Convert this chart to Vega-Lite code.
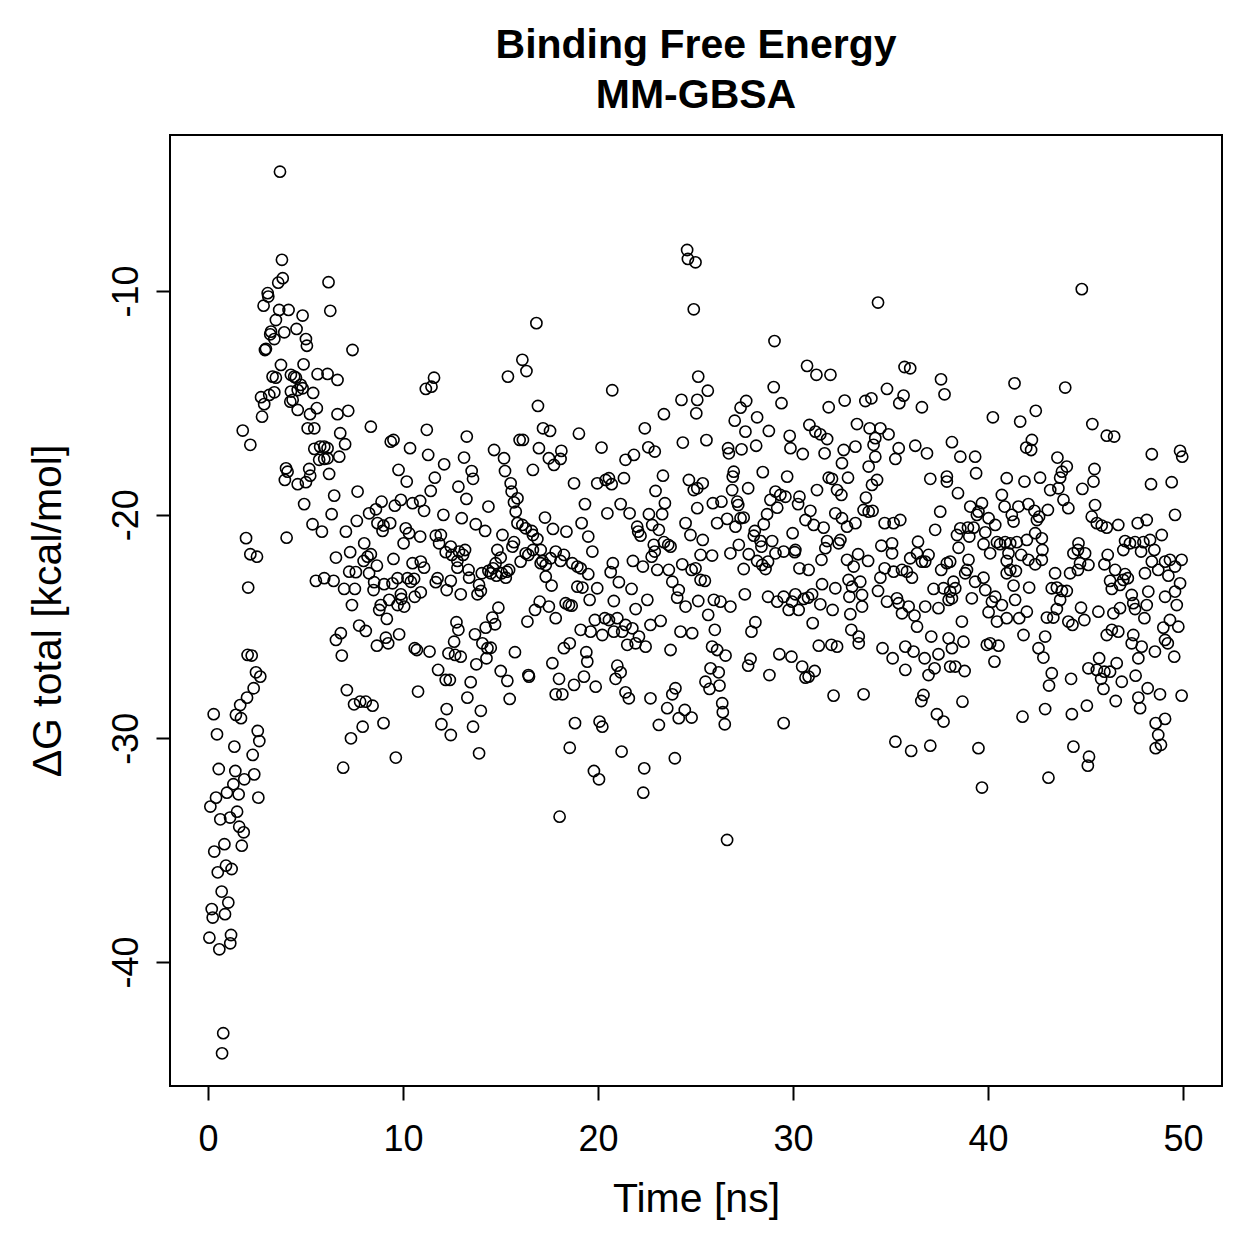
{
  "$schema": "https://vega.github.io/schema/vega-lite/v6.json",
  "width": 1052,
  "height": 951,
  "autosize": "none",
  "padding": {"left": 170, "top": 135, "right": 37, "bottom": 173},
  "background": "white",
  "title": {
    "text": ["Binding Free Energy", "MM-GBSA"],
    "font": "Liberation Sans",
    "fontSize": 41,
    "fontWeight": "bold",
    "color": "black",
    "anchor": "middle",
    "lineHeight": 50,
    "offset": 18
  },
  "data": {
    "values": [
      {"t":2.29,"dg":-30.74},{"t":0.55,"dg":-31.37},{"t":1.40,"dg":-31.46},{"t":2.37,"dg":-31.61},{"t":1.86,"dg":-31.83},{"t":1.30,"dg":-32.05},{"t":0.97,"dg":-32.43},{"t":1.57,"dg":-32.50},{"t":0.41,"dg":-32.65},{"t":2.58,"dg":-32.65},{"t":0.12,"dg":-33.05},{"t":1.49,"dg":-33.28},{"t":0.63,"dg":-33.62},{"t":1.13,"dg":-33.54},{"t":1.60,"dg":-33.95},{"t":1.83,"dg":-34.20},{"t":1.73,"dg":-34.80},{"t":0.84,"dg":-34.73},{"t":0.32,"dg":-35.06},{"t":0.92,"dg":-35.69},{"t":1.21,"dg":-35.84},{"t":0.50,"dg":-35.99},{"t":0.70,"dg":-36.85},{"t":1.04,"dg":-37.34},{"t":0.19,"dg":-37.63},{"t":0.87,"dg":-37.86},{"t":0.24,"dg":-38.01},{"t":1.18,"dg":-38.79},{"t":0.07,"dg":-38.91},{"t":1.14,"dg":-39.16},{"t":0.58,"dg":-39.43},{"t":0.78,"dg":-43.18},{"t":0.72,"dg":-44.08},{"t":6.93,"dg":-31.31},{"t":9.63,"dg":-30.86},
      {"t":4.00,"dg":-17.93},{"t":4.08,"dg":-18.08},{"t":3.94,"dg":-18.45},{"t":4.60,"dg":-18.64},{"t":5.02,"dg":-18.55},{"t":5.24,"dg":-18.26},{"t":5.19,"dg":-17.96},{"t":5.70,"dg":-17.55},{"t":5.96,"dg":-17.51},{"t":6.13,"dg":-17.48},{"t":6.73,"dg":-17.41},{"t":6.21,"dg":-18.18},{"t":4.93,"dg":-19.53},{"t":6.47,"dg":-19.15},{"t":6.34,"dg":-19.98},{"t":7.67,"dg":-18.97},{"t":5.36,"dg":-20.43},{"t":5.84,"dg":-20.76},{"t":7.07,"dg":-20.76},{"t":7.63,"dg":-20.28},{"t":8.26,"dg":-19.94},{"t":8.61,"dg":-19.76},{"t":8.90,"dg":-19.42},{"t":8.69,"dg":-20.38},{"t":9.00,"dg":-20.49},{"t":8.95,"dg":-20.73},{"t":9.34,"dg":-20.38},{"t":9.58,"dg":-19.60},{"t":9.89,"dg":-19.34},{"t":10.49,"dg":-19.49},{"t":10.88,"dg":-19.39},{"t":11.08,"dg":-19.83},{"t":9.77,"dg":-18.00},{"t":10.19,"dg":-18.52},{"t":11.42,"dg":-18.94},{"t":11.63,"dg":-18.35},{"t":12.11,"dg":-17.75},{"t":11.29,"dg":-17.33},{"t":12.07,"dg":-20.01},{"t":10.14,"dg":-20.61},{"t":10.31,"dg":-20.83},{"t":10.03,"dg":-21.28},{"t":10.88,"dg":-20.98},{"t":11.68,"dg":-20.94},{"t":11.94,"dg":-20.91},{"t":11.85,"dg":-21.28},{"t":12.19,"dg":-21.68},{"t":8.01,"dg":-21.28},{"t":7.29,"dg":-21.68},{"t":6.56,"dg":-21.92},{"t":8.35,"dg":-21.77},{"t":8.18,"dg":-21.88},{"t":7.98,"dg":-22.07},{"t":8.66,"dg":-22.28},{"t":9.51,"dg":-21.98},{"t":10.49,"dg":-22.17},{"t":10.91,"dg":-22.10},{"t":11.08,"dg":-22.37},{"t":7.24,"dg":-22.55},{"t":7.58,"dg":-22.57},{"t":8.26,"dg":-22.62},{"t":5.53,"dg":-22.96},{"t":5.96,"dg":-22.84},{"t":6.44,"dg":-22.96},{"t":6.98,"dg":-23.32},{"t":7.53,"dg":-23.32},{"t":8.52,"dg":-23.02},{"t":8.49,"dg":-23.37},{"t":9.03,"dg":-23.11},{"t":9.46,"dg":-23.07},{"t":9.72,"dg":-22.84},{"t":10.23,"dg":-22.84},{"t":10.40,"dg":-23.00},{"t":10.57,"dg":-22.87},{"t":11.68,"dg":-23.02},{"t":11.77,"dg":-22.84},{"t":12.24,"dg":-23.37},{"t":10.60,"dg":-23.67},{"t":10.91,"dg":-23.47},{"t":9.89,"dg":-23.56},{"t":9.92,"dg":-23.77},{"t":10.06,"dg":-24.11},{"t":9.72,"dg":-24.04},{"t":9.29,"dg":-23.81},{"t":8.86,"dg":-24.04},{"t":8.78,"dg":-24.26},{"t":9.17,"dg":-24.66},{"t":7.38,"dg":-24.04},{"t":7.75,"dg":-24.96},{"t":8.09,"dg":-25.20},{"t":6.81,"dg":-25.30},{"t":6.56,"dg":-25.60},{"t":6.86,"dg":-26.30},{"t":9.12,"dg":-25.50},{"t":9.24,"dg":-25.75},{"t":8.66,"dg":-25.86},{"t":9.80,"dg":-25.35},{"t":10.60,"dg":-25.97},{"t":10.71,"dg":-26.05},{"t":11.36,"dg":-26.12},{"t":11.80,"dg":-26.94},{"t":12.19,"dg":-27.39},{"t":10.77,"dg":-27.91},{"t":7.12,"dg":-27.84},{"t":7.49,"dg":-28.48},{"t":7.80,"dg":-28.36},{"t":8.09,"dg":-28.36},{"t":8.44,"dg":-28.54},{"t":7.93,"dg":-29.48},{"t":9.00,"dg":-29.32},{"t":7.33,"dg":-30.00},{"t":11.97,"dg":-29.37},{"t":12.24,"dg":-28.69},{"t":1.95,"dg":-21.05},{"t":2.17,"dg":-21.77},{"t":2.51,"dg":-21.88},{"t":4.03,"dg":-21.03},{"t":2.06,"dg":-23.26},{"t":2.03,"dg":-26.27},{"t":2.24,"dg":-26.30},{"t":2.46,"dg":-27.05},{"t":2.68,"dg":-27.24},{"t":2.34,"dg":-27.76},{"t":2.00,"dg":-28.18},{"t":1.65,"dg":-28.51},{"t":1.43,"dg":-28.95},{"t":1.69,"dg":-29.10},{"t":0.29,"dg":-28.92},{"t":0.46,"dg":-29.82},{"t":2.55,"dg":-29.67},{"t":2.63,"dg":-30.12},{"t":1.35,"dg":-30.37},
      {"t":3.69,"dg":-4.67},{"t":3.79,"dg":-8.61},{"t":3.83,"dg":-9.43},{"t":3.60,"dg":-9.63},{"t":6.18,"dg":-9.61},{"t":3.06,"dg":-10.10},{"t":3.09,"dg":-10.25},{"t":2.85,"dg":-10.66},{"t":3.65,"dg":-10.85},{"t":4.13,"dg":-10.85},{"t":6.27,"dg":-10.89},{"t":4.85,"dg":-11.10},{"t":3.48,"dg":-11.30},{"t":3.23,"dg":-11.82},{"t":3.19,"dg":-11.94},{"t":3.40,"dg":-12.15},{"t":3.91,"dg":-11.85},{"t":4.54,"dg":-11.70},{"t":5.02,"dg":-12.15},{"t":5.07,"dg":-12.45},{"t":2.97,"dg":-12.59},{"t":2.92,"dg":-12.64},{"t":7.41,"dg":-12.64},{"t":3.74,"dg":-13.31},{"t":4.90,"dg":-13.28},{"t":3.31,"dg":-13.83},{"t":3.48,"dg":-13.88},{"t":4.25,"dg":-13.75},{"t":4.42,"dg":-13.83},{"t":4.51,"dg":-13.88},{"t":5.62,"dg":-13.72},{"t":6.13,"dg":-13.71},{"t":6.64,"dg":-13.98},{"t":4.76,"dg":-14.20},{"t":4.85,"dg":-14.35},{"t":4.60,"dg":-14.43},{"t":4.25,"dg":-14.50},{"t":5.39,"dg":-14.56},{"t":2.72,"dg":-14.75},{"t":3.14,"dg":-14.65},{"t":3.40,"dg":-14.53},{"t":2.88,"dg":-15.06},{"t":2.77,"dg":-15.62},{"t":4.22,"dg":-14.95},{"t":4.34,"dg":-14.87},{"t":4.60,"dg":-15.32},{"t":5.58,"dg":-15.24},{"t":5.23,"dg":-15.51},{"t":6.64,"dg":-15.51},{"t":7.19,"dg":-15.36},{"t":1.78,"dg":-16.24},{"t":2.17,"dg":-16.88},{"t":5.11,"dg":-16.14},{"t":5.45,"dg":-16.14},{"t":6.78,"dg":-16.36},{"t":7.03,"dg":-16.85},{"t":5.45,"dg":-17.06},{"t":5.75,"dg":-16.96},{"t":5.96,"dg":-16.96},{"t":6.13,"dg":-17.03},{"t":8.35,"dg":-16.07},{"t":9.37,"dg":-16.74},{"t":9.51,"dg":-16.66},{"t":10.36,"dg":-17.03},{"t":11.22,"dg":-16.21},{"t":11.59,"dg":-13.88},{"t":11.46,"dg":-14.28},{"t":11.17,"dg":-14.38},
      {"t":24.57,"dg":-8.17},{"t":24.61,"dg":-8.57},{"t":25.00,"dg":-8.72},{"t":24.91,"dg":-10.82},{"t":16.84,"dg":-11.44},{"t":16.12,"dg":-13.08},{"t":16.33,"dg":-13.58},{"t":15.38,"dg":-13.83},{"t":20.73,"dg":-14.44},{"t":16.92,"dg":-15.14},{"t":25.14,"dg":-13.83},{"t":24.28,"dg":-14.87},{"t":25.09,"dg":-14.87},{"t":25.04,"dg":-15.47},{"t":23.38,"dg":-15.51},{"t":22.40,"dg":-16.14},{"t":17.18,"dg":-16.14},{"t":17.54,"dg":-16.26},{"t":19.02,"dg":-16.38},{"t":13.27,"dg":-16.51},{"t":15.98,"dg":-16.66},{"t":16.15,"dg":-16.66},{"t":24.35,"dg":-16.78},{"t":14.67,"dg":-17.11},{"t":15.18,"dg":-17.48},{"t":16.97,"dg":-17.03},{"t":18.12,"dg":-17.15},{"t":20.18,"dg":-17.00},{"t":22.58,"dg":-16.99},{"t":22.91,"dg":-17.18},{"t":21.84,"dg":-17.33},{"t":21.41,"dg":-17.55},{"t":13.13,"dg":-17.45},{"t":17.48,"dg":-17.48},{"t":18.08,"dg":-17.51},
      {"t":34.36,"dg":-10.52},{"t":29.05,"dg":-12.24},{"t":30.72,"dg":-13.35},{"t":31.20,"dg":-13.75},{"t":31.92,"dg":-13.75},{"t":35.72,"dg":-13.40},{"t":36.01,"dg":-13.46},{"t":37.59,"dg":-13.95},{"t":37.77,"dg":-14.62},{"t":29.01,"dg":-14.30},{"t":29.41,"dg":-15.02},{"t":25.63,"dg":-14.46},{"t":27.60,"dg":-14.92},{"t":27.31,"dg":-15.22},{"t":27.01,"dg":-15.80},{"t":28.16,"dg":-15.65},{"t":27.56,"dg":-16.29},{"t":28.76,"dg":-16.26},{"t":25.56,"dg":-16.67},{"t":26.67,"dg":-17.03},{"t":26.71,"dg":-17.26},{"t":27.36,"dg":-17.08},{"t":28.11,"dg":-16.92},{"t":29.83,"dg":-16.48},{"t":29.87,"dg":-17.03},{"t":30.50,"dg":-17.29},{"t":30.84,"dg":-15.99},{"t":31.15,"dg":-16.29},{"t":31.40,"dg":-16.41},{"t":31.75,"dg":-16.62},{"t":31.62,"dg":-17.26},{"t":31.83,"dg":-15.20},{"t":32.65,"dg":-14.90},{"t":33.71,"dg":-14.92},{"t":34.02,"dg":-14.80},{"t":34.82,"dg":-14.38},{"t":35.67,"dg":-14.68},{"t":35.45,"dg":-15.02},{"t":36.61,"dg":-15.20},{"t":33.28,"dg":-15.95},{"t":33.93,"dg":-16.14},{"t":34.48,"dg":-16.14},{"t":34.90,"dg":-16.41},{"t":34.22,"dg":-16.58},{"t":34.13,"dg":-16.88},{"t":32.60,"dg":-17.11},{"t":33.20,"dg":-16.96},{"t":34.22,"dg":-17.41},{"t":35.42,"dg":-17.03},{"t":36.27,"dg":-16.92},{"t":36.87,"dg":-17.26},{"t":38.15,"dg":-16.76},{"t":35.25,"dg":-17.51},
      {"t":44.81,"dg":-9.92},{"t":41.36,"dg":-14.13},{"t":43.96,"dg":-14.32},{"t":40.25,"dg":-15.65},{"t":41.65,"dg":-15.84},{"t":42.45,"dg":-15.36},{"t":45.35,"dg":-15.95},{"t":46.09,"dg":-16.47},{"t":46.47,"dg":-16.51},{"t":42.25,"dg":-16.66},{"t":41.96,"dg":-17.00},{"t":42.21,"dg":-17.11},{"t":38.58,"dg":-17.41},{"t":39.34,"dg":-17.41},{"t":43.56,"dg":-17.45},{"t":48.40,"dg":-17.30},{"t":49.85,"dg":-17.15},{"t":49.96,"dg":-17.41},
      {"t":15.23,"dg":-18.05},{"t":13.52,"dg":-18.05},{"t":13.59,"dg":-18.40},{"t":16.66,"dg":-18.00},{"t":17.74,"dg":-17.78},{"t":18.77,"dg":-18.60},{"t":19.96,"dg":-18.60},{"t":20.39,"dg":-18.45},{"t":20.56,"dg":-18.37},{"t":20.70,"dg":-18.64},{"t":21.33,"dg":-18.37},{"t":23.33,"dg":-18.26},{"t":24.66,"dg":-18.45},{"t":24.91,"dg":-18.90},{"t":22.95,"dg":-18.94},{"t":12.84,"dg":-18.75},{"t":13.25,"dg":-19.30},{"t":14.38,"dg":-19.64},{"t":15.52,"dg":-18.60},{"t":15.57,"dg":-18.97},{"t":15.87,"dg":-19.27},{"t":15.69,"dg":-19.45},{"t":15.78,"dg":-19.87},{"t":13.01,"dg":-20.16},{"t":13.73,"dg":-20.43},{"t":14.21,"dg":-20.73},{"t":15.87,"dg":-20.38},{"t":16.12,"dg":-20.46},{"t":16.29,"dg":-20.61},{"t":16.60,"dg":-20.73},{"t":16.66,"dg":-20.91},{"t":16.89,"dg":-21.09},{"t":17.28,"dg":-20.13},{"t":17.69,"dg":-20.64},{"t":18.38,"dg":-20.76},{"t":19.33,"dg":-19.53},{"t":19.16,"dg":-20.38},{"t":19.50,"dg":-20.98},{"t":19.71,"dg":-21.65},{"t":20.48,"dg":-19.94},{"t":21.16,"dg":-19.53},{"t":21.62,"dg":-19.94},{"t":22.61,"dg":-19.98},{"t":22.78,"dg":-20.46},{"t":23.29,"dg":-19.98},{"t":23.43,"dg":-19.49},{"t":22.01,"dg":-20.54},{"t":22.06,"dg":-20.76},{"t":22.18,"dg":-20.94},{"t":23.12,"dg":-20.68},{"t":23.38,"dg":-21.23},{"t":23.60,"dg":-21.35},{"t":23.72,"dg":-21.43},{"t":22.86,"dg":-21.35},{"t":22.91,"dg":-21.65},{"t":22.75,"dg":-21.88},{"t":24.49,"dg":-20.38},{"t":24.74,"dg":-20.91},{"t":25.09,"dg":-19.71},{"t":15.10,"dg":-20.91},{"t":15.69,"dg":-21.23},{"t":15.61,"dg":-21.43},{"t":16.29,"dg":-21.73},{"t":16.66,"dg":-21.58},{"t":16.43,"dg":-21.80},{"t":16.03,"dg":-22.10},{"t":17.06,"dg":-21.58},{"t":17.15,"dg":-22.07},{"t":17.32,"dg":-22.25},{"t":17.06,"dg":-22.17},{"t":17.83,"dg":-21.65},{"t":18.25,"dg":-21.80},{"t":18.08,"dg":-22.07},{"t":17.57,"dg":-21.95},{"t":18.68,"dg":-22.17},{"t":18.94,"dg":-22.32},{"t":19.11,"dg":-22.40},{"t":19.50,"dg":-22.66},{"t":12.45,"dg":-21.43},{"t":12.50,"dg":-21.80},{"t":12.79,"dg":-22.07},{"t":12.87,"dg":-21.65},{"t":13.18,"dg":-21.58},{"t":13.08,"dg":-21.80},{"t":12.79,"dg":-22.37},{"t":13.36,"dg":-22.47},{"t":13.39,"dg":-22.82},{"t":12.45,"dg":-22.96},{"t":12.96,"dg":-23.56},{"t":14.04,"dg":-22.62},{"t":14.38,"dg":-22.52},{"t":14.62,"dg":-22.40},{"t":14.75,"dg":-22.17},{"t":15.01,"dg":-21.92},{"t":14.84,"dg":-21.58},{"t":14.50,"dg":-22.62},{"t":14.79,"dg":-22.73},{"t":15.06,"dg":-22.62},{"t":15.32,"dg":-22.55},{"t":15.44,"dg":-22.47},{"t":15.27,"dg":-22.82},{"t":13.90,"dg":-23.14},{"t":13.82,"dg":-23.56},{"t":13.99,"dg":-23.41},{"t":17.32,"dg":-22.77},{"t":17.62,"dg":-23.17},{"t":18.94,"dg":-23.22},{"t":19.20,"dg":-23.26},{"t":19.96,"dg":-23.29},{"t":19.57,"dg":-23.81},{"t":20.76,"dg":-22.17},{"t":20.65,"dg":-22.57},{"t":21.07,"dg":-23.02},{"t":21.72,"dg":-23.32},{"t":21.79,"dg":-22.07},{"t":22.30,"dg":-22.32},{"t":23.04,"dg":-22.47},{"t":23.63,"dg":-22.47},{"t":24.32,"dg":-22.22},{"t":24.80,"dg":-22.47},{"t":23.81,"dg":-23.00},{"t":24.14,"dg":-23.37},{"t":24.06,"dg":-23.71},{"t":24.49,"dg":-24.11},{"t":25.26,"dg":-22.92},{"t":25.14,"dg":-23.86},{"t":20.81,"dg":-23.86},{"t":22.53,"dg":-23.81},{"t":21.93,"dg":-24.22},{"t":14.89,"dg":-24.16},{"t":14.58,"dg":-24.60},{"t":14.72,"dg":-24.90},{"t":14.24,"dg":-25.05},{"t":13.69,"dg":-25.35},{"t":12.74,"dg":-24.81},{"t":12.84,"dg":-25.15},{"t":17.01,"dg":-23.89},{"t":16.77,"dg":-24.26},{"t":17.48,"dg":-24.11},{"t":17.83,"dg":-24.63},{"t":16.38,"dg":-24.78},{"t":18.34,"dg":-23.96},{"t":18.51,"dg":-24.04},{"t":18.65,"dg":-24.07},{"t":19.84,"dg":-24.71},{"t":20.35,"dg":-24.63},{"t":20.56,"dg":-24.71},{"t":20.99,"dg":-24.63},{"t":21.41,"dg":-24.93},{"t":19.11,"dg":-25.15},{"t":19.62,"dg":-25.23},{"t":20.22,"dg":-25.38},{"t":20.81,"dg":-25.23},{"t":21.24,"dg":-25.23},{"t":21.76,"dg":-25.08},{"t":22.10,"dg":-25.45},{"t":22.44,"dg":-25.90},{"t":21.93,"dg":-25.75},{"t":21.50,"dg":-25.82},{"t":22.69,"dg":-24.93},{"t":23.21,"dg":-24.75},{"t":24.23,"dg":-25.23},{"t":24.83,"dg":-25.30},{"t":23.72,"dg":-26.05},{"t":12.62,"dg":-25.68},{"t":12.67,"dg":-26.27},{"t":12.96,"dg":-26.35},{"t":12.33,"dg":-26.20},{"t":14.07,"dg":-25.75},{"t":14.33,"dg":-25.97},{"t":14.50,"dg":-25.95},{"t":14.28,"dg":-26.42},{"t":13.76,"dg":-26.69},{"t":15.74,"dg":-26.15},{"t":15.01,"dg":-26.99},{"t":15.35,"dg":-27.43},{"t":16.43,"dg":-27.17},{"t":16.46,"dg":-27.24},{"t":18.25,"dg":-25.97},{"t":18.55,"dg":-25.75},{"t":17.66,"dg":-26.64},{"t":18.00,"dg":-27.34},{"t":18.77,"dg":-27.61},{"t":19.28,"dg":-27.24},{"t":19.88,"dg":-27.69},{"t":19.40,"dg":-26.15},{"t":19.45,"dg":-26.57},{"t":17.83,"dg":-28.03},{"t":18.17,"dg":-28.03},{"t":20.99,"dg":-26.75},{"t":21.16,"dg":-27.05},{"t":20.90,"dg":-27.34},{"t":21.41,"dg":-27.94},{"t":21.58,"dg":-28.21},{"t":22.69,"dg":-28.21},{"t":23.55,"dg":-28.65},{"t":23.97,"dg":-27.76},{"t":23.81,"dg":-28.03},{"t":24.14,"dg":-29.10},{"t":24.45,"dg":-28.73},{"t":24.80,"dg":-29.07},{"t":12.40,"dg":-27.39},{"t":13.47,"dg":-27.49},{"t":13.30,"dg":-28.18},{"t":13.99,"dg":-28.77},{"t":13.59,"dg":-29.48},{"t":12.45,"dg":-29.85},{"t":15.47,"dg":-28.24},{"t":18.82,"dg":-29.32},{"t":20.08,"dg":-29.25},{"t":20.22,"dg":-29.48},{"t":23.12,"dg":-29.40},{"t":13.90,"dg":-30.67},{"t":18.55,"dg":-30.42},{"t":21.21,"dg":-30.59},{"t":23.94,"dg":-30.89},
      {"t":19.79,"dg":-31.46},{"t":20.05,"dg":-31.83},{"t":22.37,"dg":-31.34},{"t":22.32,"dg":-32.43},{"t":18.03,"dg":-33.50},
      {"t":32.51,"dg":-17.70},{"t":33.88,"dg":-17.85},{"t":25.37,"dg":-18.60},{"t":25.09,"dg":-18.82},{"t":26.96,"dg":-18.08},{"t":26.91,"dg":-18.30},{"t":26.88,"dg":-18.90},{"t":27.70,"dg":-18.82},{"t":28.45,"dg":-18.10},{"t":29.70,"dg":-18.30},{"t":31.83,"dg":-18.35},{"t":32.00,"dg":-18.40},{"t":32.82,"dg":-18.35},{"t":31.23,"dg":-18.90},{"t":32.26,"dg":-18.90},{"t":32.48,"dg":-19.12},{"t":34.05,"dg":-18.67},{"t":34.31,"dg":-18.45},{"t":33.74,"dg":-19.24},{"t":37.04,"dg":-18.40},{"t":37.89,"dg":-18.30},{"t":37.89,"dg":-18.52},{"t":25.89,"dg":-19.49},{"t":26.33,"dg":-19.42},{"t":27.14,"dg":-19.42},{"t":27.19,"dg":-19.57},{"t":29.10,"dg":-18.97},{"t":29.35,"dg":-19.12},{"t":29.61,"dg":-19.20},{"t":28.84,"dg":-19.34},{"t":29.19,"dg":-19.69},{"t":30.33,"dg":-19.20},{"t":30.26,"dg":-19.53},{"t":30.89,"dg":-19.83},{"t":30.64,"dg":-20.24},{"t":31.06,"dg":-20.46},{"t":31.57,"dg":-20.58},{"t":32.17,"dg":-19.94},{"t":32.51,"dg":-20.16},{"t":32.77,"dg":-20.54},{"t":33.20,"dg":-20.38},{"t":33.62,"dg":-19.79},{"t":33.88,"dg":-19.87},{"t":34.08,"dg":-19.83},{"t":37.55,"dg":-19.87},{"t":37.29,"dg":-20.68},{"t":34.70,"dg":-20.38},{"t":35.16,"dg":-20.38},{"t":35.50,"dg":-20.24},{"t":26.11,"dg":-20.38},{"t":26.62,"dg":-20.19},{"t":27.05,"dg":-20.54},{"t":27.31,"dg":-20.16},{"t":27.47,"dg":-20.13},{"t":28.67,"dg":-19.98},{"t":28.50,"dg":-20.43},{"t":25.37,"dg":-21.13},{"t":25.26,"dg":-21.80},{"t":25.85,"dg":-21.83},{"t":26.79,"dg":-21.73},{"t":27.22,"dg":-21.35},{"t":28.04,"dg":-20.73},{"t":27.99,"dg":-20.94},{"t":28.33,"dg":-21.18},{"t":28.38,"dg":-21.43},{"t":28.93,"dg":-21.18},{"t":29.98,"dg":-20.83},{"t":27.73,"dg":-21.77},{"t":27.47,"dg":-22.43},{"t":28.16,"dg":-22.07},{"t":28.42,"dg":-22.25},{"t":28.59,"dg":-22.43},{"t":28.72,"dg":-22.10},{"t":29.10,"dg":-21.73},{"t":29.52,"dg":-21.65},{"t":30.12,"dg":-21.58},{"t":30.09,"dg":-21.68},{"t":31.75,"dg":-21.18},{"t":31.66,"dg":-21.50},{"t":32.34,"dg":-21.28},{"t":32.43,"dg":-21.13},{"t":31.46,"dg":-22.02},{"t":30.33,"dg":-22.40},{"t":30.80,"dg":-22.47},{"t":32.77,"dg":-22.02},{"t":33.11,"dg":-22.32},{"t":33.34,"dg":-21.77},{"t":33.85,"dg":-22.07},{"t":34.53,"dg":-21.39},{"t":35.08,"dg":-21.28},{"t":35.08,"dg":-21.73},{"t":34.70,"dg":-22.40},{"t":34.48,"dg":-22.82},{"t":35.16,"dg":-22.55},{"t":35.59,"dg":-22.47},{"t":36.01,"dg":-21.95},{"t":36.41,"dg":-21.21},{"t":36.36,"dg":-21.73},{"t":36.61,"dg":-22.10},{"t":36.95,"dg":-21.80},{"t":36.78,"dg":-22.10},{"t":37.60,"dg":-22.47},{"t":37.89,"dg":-22.17},{"t":36.10,"dg":-22.82},{"t":35.84,"dg":-22.55},{"t":25.48,"dg":-22.96},{"t":25.00,"dg":-22.40},{"t":31.49,"dg":-23.11},{"t":32.17,"dg":-23.29},{"t":32.85,"dg":-22.92},{"t":33.03,"dg":-23.22},{"t":33.45,"dg":-23.00},{"t":34.36,"dg":-23.41},{"t":32.89,"dg":-23.67},{"t":33.54,"dg":-23.59},{"t":33.54,"dg":-24.11},{"t":27.53,"dg":-23.56},{"t":28.72,"dg":-23.67},{"t":29.19,"dg":-23.89},{"t":29.52,"dg":-23.67},{"t":29.78,"dg":-24.26},{"t":29.95,"dg":-23.89},{"t":30.12,"dg":-23.56},{"t":30.29,"dg":-24.26},{"t":30.55,"dg":-23.77},{"t":30.77,"dg":-23.71},{"t":30.98,"dg":-23.56},{"t":31.40,"dg":-24.01},{"t":32.03,"dg":-24.26},{"t":31.01,"dg":-24.85},{"t":25.94,"dg":-23.81},{"t":26.28,"dg":-23.89},{"t":26.79,"dg":-24.11},{"t":25.65,"dg":-24.48},{"t":25.99,"dg":-25.15},{"t":28.07,"dg":-24.81},{"t":27.87,"dg":-25.23},{"t":32.94,"dg":-24.45},{"t":32.99,"dg":-25.15},{"t":33.37,"dg":-25.45},{"t":33.37,"dg":-25.75},{"t":34.82,"dg":-23.89},{"t":35.33,"dg":-23.74},{"t":35.42,"dg":-23.96},{"t":35.59,"dg":-24.41},{"t":35.93,"dg":-24.11},{"t":36.23,"dg":-24.51},{"t":36.36,"dg":-25.01},{"t":36.78,"dg":-24.11},{"t":37.46,"dg":-24.18},{"t":37.09,"dg":-25.45},{"t":37.98,"dg":-25.53},{"t":37.72,"dg":-23.29},{"t":37.21,"dg":-23.32},{"t":37.98,"dg":-23.81},{"t":25.85,"dg":-25.90},{"t":26.11,"dg":-26.05},{"t":26.54,"dg":-26.30},{"t":27.82,"dg":-26.45},{"t":27.70,"dg":-26.75},{"t":29.30,"dg":-26.24},{"t":29.92,"dg":-26.35},{"t":30.47,"dg":-26.79},{"t":31.11,"dg":-26.99},{"t":30.64,"dg":-27.29},{"t":30.80,"dg":-27.24},{"t":31.32,"dg":-25.86},{"t":31.97,"dg":-25.82},{"t":32.26,"dg":-25.90},{"t":28.79,"dg":-27.17},{"t":34.59,"dg":-25.97},{"t":35.11,"dg":-26.42},{"t":35.76,"dg":-25.90},{"t":36.18,"dg":-26.12},{"t":35.76,"dg":-26.94},{"t":36.75,"dg":-26.42},{"t":37.26,"dg":-26.87},{"t":36.95,"dg":-27.17},{"t":37.46,"dg":-26.24},{"t":38.06,"dg":-26.79},{"t":25.77,"dg":-26.87},{"t":26.19,"dg":-27.05},{"t":25.51,"dg":-27.47},{"t":25.72,"dg":-27.79},{"t":26.23,"dg":-27.64},{"t":26.37,"dg":-28.43},{"t":26.40,"dg":-28.83},{"t":26.50,"dg":-29.37},{"t":29.52,"dg":-29.32},{"t":32.08,"dg":-28.09},{"t":33.62,"dg":-28.03},{"t":36.69,"dg":-28.06},{"t":36.58,"dg":-28.33},{"t":37.38,"dg":-28.92},{"t":37.72,"dg":-29.25},{"t":35.25,"dg":-30.15},{"t":36.06,"dg":-30.56},{"t":37.04,"dg":-30.33},{"t":26.62,"dg":-34.54},
      {"t":38.46,"dg":-19.04},{"t":39.39,"dg":-18.15},{"t":40.96,"dg":-18.37},{"t":41.87,"dg":-18.52},{"t":42.67,"dg":-18.35},{"t":44.04,"dg":-17.85},{"t":43.79,"dg":-18.08},{"t":43.70,"dg":-18.35},{"t":45.46,"dg":-17.96},{"t":45.41,"dg":-18.52},{"t":44.84,"dg":-18.85},{"t":48.36,"dg":-18.64},{"t":49.42,"dg":-18.55},{"t":43.19,"dg":-18.90},{"t":43.61,"dg":-18.82},{"t":43.87,"dg":-19.34},{"t":44.12,"dg":-19.71},{"t":40.71,"dg":-19.12},{"t":40.85,"dg":-19.64},{"t":41.56,"dg":-19.64},{"t":42.07,"dg":-19.53},{"t":42.38,"dg":-19.83},{"t":42.62,"dg":-20.09},{"t":42.51,"dg":-20.24},{"t":43.07,"dg":-19.79},{"t":41.22,"dg":-20.01},{"t":41.31,"dg":-20.31},{"t":39.09,"dg":-19.64},{"t":39.69,"dg":-19.49},{"t":39.51,"dg":-19.87},{"t":39.43,"dg":-20.01},{"t":40.03,"dg":-20.16},{"t":40.37,"dg":-20.46},{"t":39.86,"dg":-20.79},{"t":45.49,"dg":-19.57},{"t":45.32,"dg":-20.09},{"t":45.58,"dg":-20.38},{"t":45.83,"dg":-20.49},{"t":46.09,"dg":-20.58},{"t":46.68,"dg":-20.46},{"t":47.68,"dg":-20.38},{"t":48.14,"dg":-20.24},{"t":48.91,"dg":-20.91},{"t":49.59,"dg":-20.01},{"t":38.58,"dg":-20.61},{"t":38.41,"dg":-20.91},{"t":38.97,"dg":-20.58},{"t":39.26,"dg":-20.58},{"t":39.04,"dg":-20.98},{"t":38.49,"dg":-21.48},{"t":40.46,"dg":-21.23},{"t":40.62,"dg":-21.32},{"t":40.88,"dg":-21.23},{"t":41.14,"dg":-21.28},{"t":41.48,"dg":-21.23},{"t":41.99,"dg":-21.13},{"t":42.42,"dg":-20.83},{"t":42.76,"dg":-21.06},{"t":42.79,"dg":-21.58},{"t":39.77,"dg":-21.32},{"t":40.11,"dg":-21.73},{"t":41.05,"dg":-21.73},{"t":41.70,"dg":-21.80},{"t":42.07,"dg":-22.02},{"t":42.42,"dg":-22.22},{"t":42.76,"dg":-22.02},{"t":44.64,"dg":-21.28},{"t":44.61,"dg":-21.58},{"t":44.38,"dg":-21.73},{"t":44.98,"dg":-21.73},{"t":44.72,"dg":-22.17},{"t":45.15,"dg":-22.25},{"t":44.61,"dg":-22.47},{"t":44.21,"dg":-22.62},{"t":47.03,"dg":-21.18},{"t":47.28,"dg":-21.28},{"t":47.54,"dg":-21.23},{"t":47.97,"dg":-21.23},{"t":48.31,"dg":-21.13},{"t":47.85,"dg":-21.65},{"t":48.53,"dg":-21.58},{"t":46.94,"dg":-21.58},{"t":46.14,"dg":-21.80},{"t":45.97,"dg":-22.22},{"t":46.52,"dg":-22.47},{"t":47.03,"dg":-22.66},{"t":47.17,"dg":-22.84},{"t":46.94,"dg":-22.92},{"t":46.77,"dg":-23.14},{"t":46.26,"dg":-22.96},{"t":46.35,"dg":-23.32},{"t":48.40,"dg":-22.10},{"t":48.73,"dg":-22.47},{"t":48.05,"dg":-22.62},{"t":49.08,"dg":-22.10},{"t":49.33,"dg":-22.02},{"t":49.93,"dg":-22.02},{"t":49.59,"dg":-22.32},{"t":49.25,"dg":-22.73},{"t":38.06,"dg":-22.10},{"t":39.00,"dg":-22.02},{"t":38.92,"dg":-22.47},{"t":38.83,"dg":-22.62},{"t":40.96,"dg":-22.07},{"t":41.14,"dg":-22.47},{"t":41.43,"dg":-22.52},{"t":40.96,"dg":-22.62},{"t":43.44,"dg":-22.62},{"t":39.77,"dg":-22.82},{"t":39.34,"dg":-23.00},{"t":38.23,"dg":-23.00},{"t":38.32,"dg":-23.29},{"t":38.06,"dg":-23.44},{"t":38.15,"dg":-23.74},{"t":41.31,"dg":-23.17},{"t":42.11,"dg":-23.26},{"t":39.86,"dg":-23.37},{"t":39.17,"dg":-23.74},{"t":40.37,"dg":-23.67},{"t":40.20,"dg":-23.89},{"t":40.71,"dg":-24.04},{"t":43.27,"dg":-23.29},{"t":43.53,"dg":-23.26},{"t":43.79,"dg":-23.41},{"t":44.04,"dg":-23.41},{"t":43.70,"dg":-23.81},{"t":48.22,"dg":-23.44},{"t":47.37,"dg":-23.59},{"t":47.45,"dg":-23.96},{"t":47.54,"dg":-24.22},{"t":48.14,"dg":-24.04},{"t":48.02,"dg":-24.63},{"t":49.08,"dg":-23.67},{"t":49.59,"dg":-23.44},{"t":49.85,"dg":-23.07},{"t":49.68,"dg":-24.04},{"t":41.39,"dg":-23.81},{"t":41.99,"dg":-24.34},{"t":41.60,"dg":-24.63},{"t":40.03,"dg":-24.36},{"t":40.46,"dg":-24.78},{"t":40.96,"dg":-24.63},{"t":43.02,"dg":-24.60},{"t":43.35,"dg":-24.60},{"t":43.53,"dg":-24.22},{"t":44.77,"dg":-24.16},{"t":44.94,"dg":-24.71},{"t":44.12,"dg":-24.78},{"t":44.33,"dg":-24.93},{"t":45.66,"dg":-24.34},{"t":46.43,"dg":-24.41},{"t":46.77,"dg":-24.18},{"t":38.66,"dg":-24.78},{"t":48.99,"dg":-25.05},{"t":49.33,"dg":-24.71},{"t":49.76,"dg":-25.01},{"t":46.35,"dg":-25.15},{"t":46.68,"dg":-25.23},{"t":46.09,"dg":-25.38},{"t":47.45,"dg":-25.38},{"t":47.37,"dg":-25.75},{"t":47.88,"dg":-25.90},{"t":47.71,"dg":-26.42},{"t":48.56,"dg":-26.12},{"t":49.08,"dg":-25.60},{"t":49.22,"dg":-25.75},{"t":49.55,"dg":-26.35},{"t":41.82,"dg":-25.38},{"t":42.93,"dg":-25.45},{"t":42.59,"dg":-25.97},{"t":42.84,"dg":-26.39},{"t":38.15,"dg":-25.97},{"t":38.74,"dg":-25.68},{"t":39.94,"dg":-25.82},{"t":40.11,"dg":-25.75},{"t":40.54,"dg":-25.86},{"t":40.33,"dg":-26.57},{"t":38.32,"dg":-26.79},{"t":38.80,"dg":-26.99},{"t":43.27,"dg":-27.09},{"t":43.13,"dg":-27.64},{"t":44.26,"dg":-27.34},{"t":45.15,"dg":-26.87},{"t":45.70,"dg":-26.42},{"t":45.58,"dg":-26.94},{"t":45.97,"dg":-27.02},{"t":45.80,"dg":-27.34},{"t":46.26,"dg":-27.02},{"t":46.60,"dg":-26.64},{"t":45.92,"dg":-27.79},{"t":46.86,"dg":-27.47},{"t":47.57,"dg":-27.20},{"t":48.19,"dg":-27.76},{"t":47.71,"dg":-28.18},{"t":47.80,"dg":-28.65},{"t":48.82,"dg":-28.03},{"t":49.93,"dg":-28.09},{"t":38.69,"dg":-28.36},{"t":42.93,"dg":-28.69},{"t":41.77,"dg":-29.03},{"t":44.30,"dg":-28.92},{"t":45.07,"dg":-28.54},{"t":46.55,"dg":-28.33},{"t":48.60,"dg":-29.32},{"t":49.08,"dg":-29.13},{"t":48.73,"dg":-29.85},{"t":48.87,"dg":-30.29},{"t":48.60,"dg":-30.44},{"t":39.51,"dg":-30.44},{"t":44.38,"dg":-30.37},{"t":45.18,"dg":-30.82},{"t":39.69,"dg":-32.20},{"t":43.10,"dg":-31.76},{"t":45.12,"dg":-31.22}
    ]
  },
  "mark": {
    "type": "point",
    "shape": "circle",
    "filled": false,
    "size": 125,
    "strokeWidth": 1.6,
    "color": "black",
    "opacity": 1
  },
  "encoding": {
    "x": {
      "field": "t",
      "type": "quantitative",
      "scale": {"domain": [-1.95, 52], "nice": false, "zero": false},
      "axis": {"values": [0, 10, 20, 30, 40, 50], "title": "Time [ns]", "labelPadding": 22, "titlePadding": 22}
    },
    "y": {
      "field": "dg",
      "type": "quantitative",
      "scale": {"domain": [-45.54, -3.03], "nice": false, "zero": false},
      "axis": {
        "values": [-40, -30, -20, -10],
        "title": "ΔG total [kcal/mol]",
        "labelExpr": "datum.value + ''",
        "labelAngle": 270,
        "labelAlign": "center",
        "labelBaseline": "bottom",
        "labelPadding": 11,
        "titlePadding": 39
      }
    }
  },
  "config": {
    "view": {"stroke": "black", "strokeWidth": 2},
    "axis": {
      "domain": false,
      "grid": false,
      "ticks": true,
      "tickSize": 14,
      "tickWidth": 2,
      "tickColor": "black",
      "labelFont": "Liberation Sans",
      "labelFontSize": 36,
      "labelColor": "black",
      "titleFont": "Liberation Sans",
      "titleFontSize": 41,
      "titleFontWeight": "normal",
      "titleColor": "black"
    }
  }
}
